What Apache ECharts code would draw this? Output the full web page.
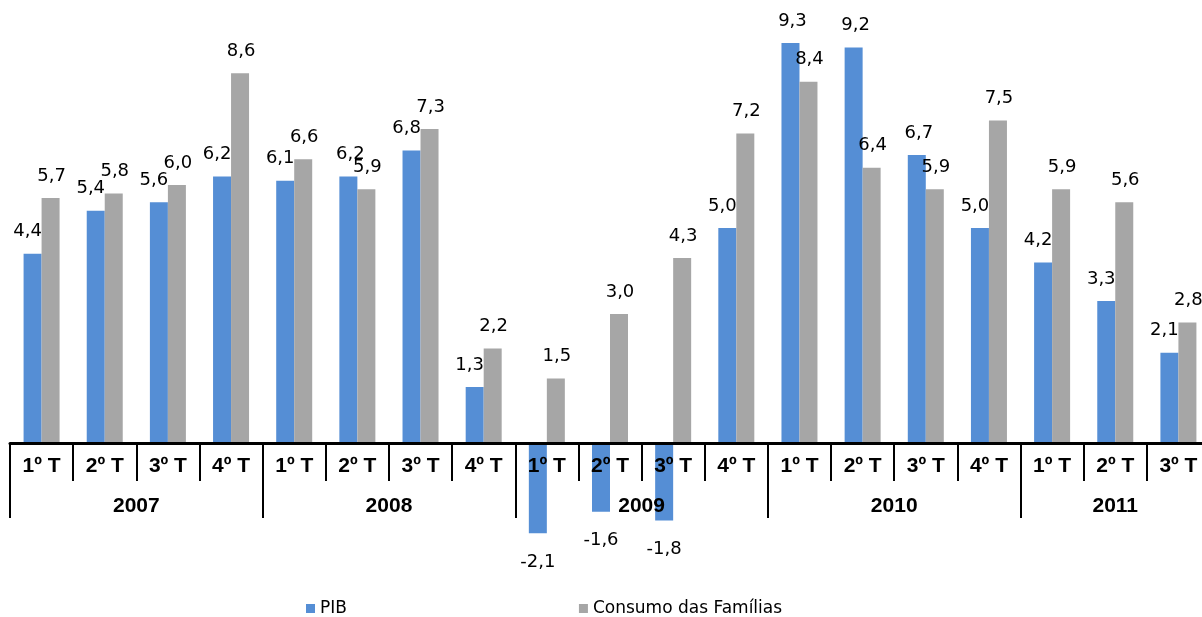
<!DOCTYPE html>
<html>
<head>
<meta charset="utf-8">
<script src="https://cdn.jsdelivr.net/npm/echarts@6/dist/echarts.min.js"></script>
<style>html,body{margin:0;padding:0;background:#fff;}#c{width:1202px;height:617px;}</style>
</head>
<body>
<div id="c"></div>
<script>
const quarters = ['1º T','2º T','3º T','4º T','1º T','2º T','3º T','4º T','1º T','2º T','3º T','4º T','1º T','2º T','3º T','4º T','1º T','2º T','3º T'];
const years = ['2007','2008','2009','2010','2011'];
const quartersPerYear = [4,4,4,4,3];
const pib = [4.4,5.4,5.6,6.2,6.1,6.2,6.8,1.3,-2.1,-1.6,-1.8,5.0,9.3,9.2,6.7,5.0,4.2,3.3,2.1];
const consumo = [5.7,5.8,6.0,8.6,6.6,5.9,7.3,2.2,1.5,3.0,4.3,7.2,8.4,6.4,5.9,7.5,5.9,5.6,2.8];

const yearStarts = [];
const yearCenters = [];
let acc = 0;
quartersPerYear.forEach(n => { yearStarts.push(acc); yearCenters.push(acc + n / 2); acc += n; });
yearStarts.push(acc);

const fmt = p => Number(p.value).toFixed(1).replace('.', ',');
const labelFont = { fontFamily: 'DejaVu Sans', fontSize: 18, color: '#000' };

function items(arr, offsetFor) {
  return arr.map((v, i) => v < 0
    ? { value: v, label: { position: 'bottom', distance: 20, offset: [0, 0] } }
    : { value: v, label: { position: 'top', distance: 13, offset: offsetFor(i) } });
}

const chart = echarts.init(document.getElementById('c'));
chart.setOption({
  animation: false,
  grid: { left: 10, width: 1200, top: 13, bottom: 66.5, containLabel: false, outerBoundsMode: 'none' },
  legend: {
    left: 306, top: 600, padding: 0, icon: 'rect', itemWidth: 9, itemHeight: 9, itemGap: 232,
    textStyle: { fontFamily: 'DejaVu Sans', fontSize: 17, color: '#000' }
  },
  xAxis: [
    {
      type: 'category', data: quarters, position: 'bottom', offset: -107.5, z: 5,
      axisLine: { show: true, onZero: false, lineStyle: { color: '#000', width: 3 } },
      axisTick: { show: true, interval: 0, length: 38, lineStyle: { color: '#000', width: 2 } },
      axisLabel: { interval: 0, margin: 13, fontFamily: 'Liberation Sans', fontWeight: 'bold', fontSize: 21, color: '#000' },
      splitLine: { show: false }
    },
    {
      type: 'value', min: 0, max: quarters.length, position: 'bottom', offset: -107.5, z: 5,
      axisLine: { show: false, onZero: false },
      axisTick: { show: true, customValues: yearStarts, length: 75, lineStyle: { color: '#000', width: 2 } },
      axisLabel: {
        customValues: yearCenters, margin: 53,
        fontFamily: 'Liberation Sans', fontWeight: 'bold', fontSize: 21, color: '#000',
        formatter: v => { const i = yearCenters.indexOf(v); return i >= 0 ? years[i] : ''; }
      },
      splitLine: { show: false }
    }
  ],
  yAxis: { type: 'value', min: -2.5, max: 10, show: false, splitLine: { show: false } },
  series: [
    {
      name: 'PIB', type: 'bar', xAxisIndex: 0,
      data: items(pib, i => consumo[i] > pib[i] ? [-5, 0] : [2, 0]),
      barGap: '0%', barCategoryGap: '43%',
      itemStyle: { color: '#558ED5' },
      label: { show: true, formatter: fmt, ...labelFont }
    },
    {
      name: 'Consumo das Famílias', type: 'bar', xAxisIndex: 0,
      data: items(consumo, i => [1, 0]),
      barGap: '0%', barCategoryGap: '43%',
      itemStyle: { color: '#A6A6A6' },
      label: { show: true, formatter: fmt, ...labelFont }
    }
  ]
});
</script>
</body>
</html>
